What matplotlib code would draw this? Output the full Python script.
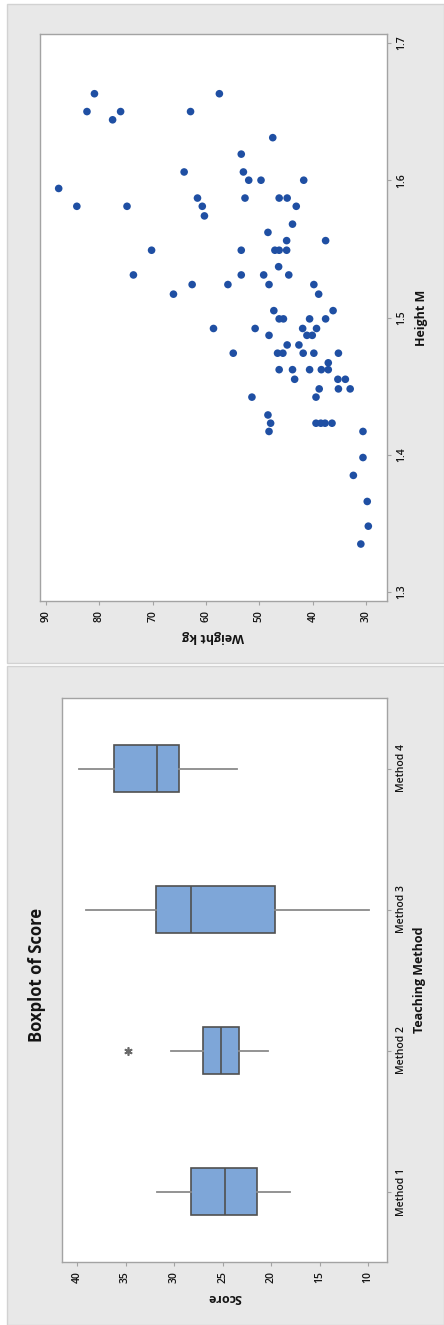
import matplotlib
matplotlib.use("Agg")
import matplotlib.pyplot as plt
from matplotlib.patches import Rectangle

plt.rcParams['font.family'] = ['Open Sans', 'DejaVu Sans']

# ── data ──────────────────────────────────────────────────────────────────────
# scatter: Weight kg vs Height M
weight = [80.9, 82.3, 76.0, 77.5, 87.6, 84.2, 74.8, 70.2, 73.6, 66.1,
          57.5, 62.9, 47.5, 53.4, 64.1, 53.0, 52.0, 49.7, 41.7, 61.6,
          60.7, 60.3, 52.7, 46.3, 44.8, 43.1, 43.8, 48.4, 44.9, 37.6,
          53.4, 47.1, 46.3, 44.9, 46.4, 53.4, 49.2, 44.5, 62.6, 55.9,
          48.2, 39.8, 38.9, 47.3, 46.3, 45.5, 36.2, 40.6, 37.6, 58.6,
          50.8, 41.9, 39.3, 48.2, 41.1, 40.1, 44.8, 42.6, 54.9, 46.6,
          45.6, 41.8, 39.8, 35.2, 37.1, 46.3, 43.8, 43.4, 40.6, 38.4,
          37.1, 35.3, 33.9, 38.8, 35.2, 33.0, 39.4, 51.4, 48.4, 47.9,
          48.2, 39.4, 38.5, 37.7, 36.4, 30.6, 30.6, 32.4, 29.8, 29.6,
          31.0]
height = [1.663, 1.650, 1.650, 1.644, 1.594, 1.581, 1.581, 1.549, 1.531, 1.517,
          1.663, 1.650, 1.631, 1.619, 1.606, 1.606, 1.600, 1.600, 1.600, 1.587,
          1.581, 1.574, 1.587, 1.587, 1.587, 1.581, 1.568, 1.562, 1.556, 1.556,
          1.549, 1.549, 1.549, 1.549, 1.537, 1.531, 1.531, 1.531, 1.524, 1.524,
          1.524, 1.524, 1.517, 1.505, 1.499, 1.499, 1.505, 1.499, 1.499, 1.492,
          1.492, 1.492, 1.492, 1.487, 1.487, 1.487, 1.480, 1.480, 1.474, 1.474,
          1.474, 1.474, 1.474, 1.474, 1.467, 1.462, 1.462, 1.455, 1.462, 1.462,
          1.462, 1.455, 1.455, 1.448, 1.448, 1.448, 1.442, 1.442, 1.429, 1.423,
          1.417, 1.423, 1.423, 1.423, 1.423, 1.417, 1.398, 1.385, 1.366, 1.348,
          1.335]

# boxplot: Score by Teaching Method
methods = ["Method 1", "Method 2", "Method 3", "Method 4"]
whis_lo = [18.1, 20.3, 9.9, 23.5]
q1 = [21.45, 23.3, 19.6, 29.5]
med = [24.75, 25.15, 28.25, 31.75]
q3 = [28.25, 27.0, 31.85, 36.2]
whis_hi = [31.75, 30.3, 39.1, 39.8]
outliers = [[], [34.75], [], []]

weight_ticks = [90, 80, 70, 60, 50, 40, 30]
height_ticks = [1.3, 1.4, 1.5, 1.6, 1.7]
score_ticks = [40, 35, 30, 25, 20, 15, 10]

# ── styles ────────────────────────────────────────────────────────────────────
PANEL = '#e8e8e8'
FRAME = '#a3a3a3'
TXT = '#141414'
DOT = '#1f4fa3'
BOXFILL = '#7ea6d8'
BOXEDGE = '#505050'
WHISK = '#8a8a8a'

W, H = 444, 1325
fig = plt.figure(figsize=(W / 100, H / 100), dpi=100, facecolor='white')


def fx(px): return px / W
def fy(py): return 1 - py / H


# panel backgrounds (the whole composite is turned 90° counter-clockwise)
fig.add_artist(Rectangle((fx(7), fy(663)), 1 - fx(7), fy(4) - fy(663),
                         transform=fig.transFigure, facecolor=PANEL,
                         edgecolor='#d2d2d2', lw=1, zorder=-10))
fig.add_artist(Rectangle((fx(7), 0), 1 - fx(7), fy(666),
                         transform=fig.transFigure, facecolor=PANEL,
                         edgecolor='#d2d2d2', lw=1, zorder=-10))


def style_axes(ax):
    ax.set_facecolor('white')
    for s in ax.spines.values():
        s.set_color(FRAME)
        s.set_linewidth(1.0)
    ax.tick_params(colors=FRAME, labelcolor=TXT, length=3, width=0.8,
                   labelsize=7.5)


def tick_font(labels):
    for t in labels:
        t.set_fontweight('semibold')


# ── scatter (top) ─────────────────────────────────────────────────────────────
ax1 = fig.add_axes([fx(40), fy(601), fx(387) - fx(40), fy(34) - fy(601)])
style_axes(ax1)
ax1.scatter(weight, height, s=30, color=DOT, edgecolors='none', zorder=3)
ax1.set_xlim(91.1, 26.1)
ax1.set_ylim(1.2935, 1.7065)
ax1.set_xticks(weight_ticks)
ax1.set_xticklabels([str(t) for t in weight_ticks], rotation=90)
ax1.set_yticks(height_ticks)
ax1.set_yticklabels([f"{t:.1f}" for t in height_ticks], rotation=90, va='center')
ax1.yaxis.tick_right()
ax1.yaxis.set_label_position('right')
tick_font(ax1.get_xticklabels() + ax1.get_yticklabels())
ax1.set_xlabel('Weight kg', rotation=180, fontsize=9, fontweight='bold',
               color=TXT, labelpad=6)
ax1.set_ylabel('Height M', rotation=90, fontsize=9, fontweight='bold',
               color=TXT, labelpad=6)

# ── boxplot (bottom) ──────────────────────────────────────────────────────────
ax2 = fig.add_axes([fx(62), fy(1262), fx(387) - fx(62), fy(698) - fy(1262)])
style_axes(ax2)
stats = []
for i, m in enumerate(methods):
    stats.append(dict(label=m, whislo=whis_lo[i], q1=q1[i], med=med[i],
                      q3=q3[i], whishi=whis_hi[i], fliers=outliers[i]))
pos = list(range(1, len(methods) + 1))
ax2.bxp(stats, positions=pos, widths=0.33, orientation='horizontal',
        patch_artist=True, showcaps=False,
        boxprops=dict(facecolor=BOXFILL, edgecolor=BOXEDGE, linewidth=1.2),
        medianprops=dict(color=BOXEDGE, linewidth=1.2),
        whiskerprops=dict(color=WHISK, linewidth=1.3),
        flierprops=dict(marker=(6, 2, 0), markersize=6, markeredgewidth=1.2,
                        markeredgecolor='#6a6a6a'))
ax2.set_xlim(41.55, 8.05)
ax2.set_ylim(0.5, 4.5)
ax2.set_xticks(score_ticks)
ax2.set_xticklabels([str(t) for t in score_ticks], rotation=90)
ax2.set_yticks(pos)
ax2.set_yticklabels(methods, rotation=90, va='center')
ax2.yaxis.tick_right()
ax2.yaxis.set_label_position('right')
tick_font(ax2.get_xticklabels() + ax2.get_yticklabels())
ax2.set_xlabel('Score', rotation=180, fontsize=9, fontweight='bold',
               color=TXT, labelpad=6)
ax2.set_ylabel('Teaching Method', rotation=90, fontsize=9, fontweight='bold',
               color=TXT, labelpad=4)
fig.text(fx(37), fy(975), 'Boxplot of Score', rotation=90, ha='center',
         va='center', fontsize=12, fontweight='bold', color=TXT)

fig.savefig('out.png', dpi=100, facecolor='white')
